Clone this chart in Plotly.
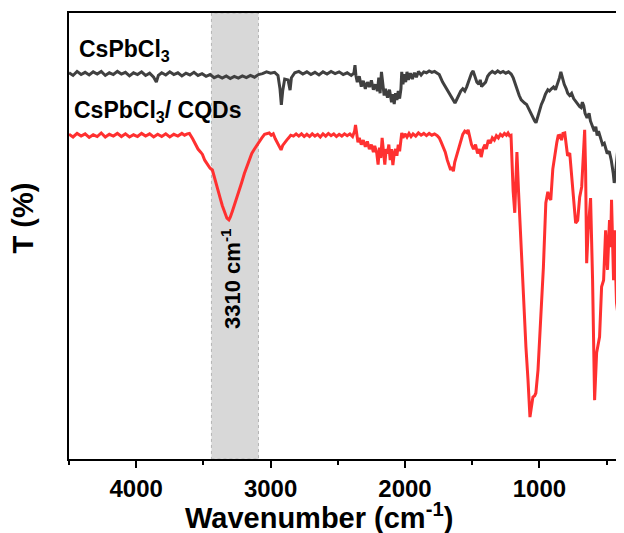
import plotly.graph_objects as go

# FTIR transmittance (wavenumber cm-1, T %)
pure_wn = [4500, 4470, 4440, 4410, 4380, 4350, 4320, 4290, 4260, 4230, 4200, 4170, 4140, 4110, 4080, 4050,
           4020, 3990, 3960, 3930, 3900, 3870, 3850, 3835, 3810, 3780, 3750, 3720, 3690, 3660, 3630, 3600,
           3570, 3540, 3510, 3480, 3450, 3420, 3390, 3360, 3330, 3300, 3270, 3240, 3210, 3180, 3150, 3120,
           3090, 3060, 3030, 3000, 2970, 2945, 2930, 2920, 2910, 2895, 2870, 2855, 2845, 2820, 2790, 2760,
           2730, 2700, 2670, 2640, 2610, 2580, 2550, 2520, 2490, 2460, 2430, 2400, 2380, 2372, 2365, 2355,
           2340, 2325, 2310, 2295, 2280, 2265, 2250, 2235, 2220, 2205, 2195, 2185, 2175, 2165, 2155, 2145,
           2130, 2115, 2100, 2090, 2080, 2070, 2060, 2050, 2040, 2030, 2024, 2015, 2005, 1995, 1985, 1975,
           1960, 1945, 1930, 1915, 1900, 1880, 1860, 1840, 1820, 1800, 1780, 1760, 1745, 1720, 1700, 1680,
           1660, 1640, 1628, 1615, 1600, 1585, 1570, 1555, 1540, 1520, 1505, 1493, 1480, 1465, 1450, 1440,
           1430, 1415, 1400, 1385, 1370, 1350, 1330, 1310, 1290, 1270, 1250, 1230, 1210, 1195, 1180, 1165,
           1150, 1135, 1120, 1110, 1095, 1080, 1065, 1050, 1035, 1025, 1015, 1000, 985, 970, 955, 937,
           925, 910, 895, 880, 865, 850, 840, 830, 815, 800, 789, 775, 760, 745, 730, 715,
           700, 690, 680, 670, 660, 645, 630, 620, 605, 591, 580, 570, 560, 545, 530, 517,
           505, 495, 480, 465, 450, 443, 435, 425, 418, 410, 400]
pure_t = [86.6, 86.0, 86.9, 86.2, 86.7, 86.1, 86.8, 86.3, 86.9, 86.0, 86.6, 86.2, 86.9, 86.3, 86.7, 85.9,
          86.6, 86.2, 86.8, 86.0, 86.5, 85.6, 84.5, 86.0, 86.6, 86.1, 86.8, 86.2, 86.6, 85.9, 86.5, 86.1,
          86.7, 86.0, 86.4, 85.8, 86.2, 85.5, 85.9, 85.4, 85.9, 85.3, 85.8, 85.4, 85.9, 85.5, 86.0, 85.6,
          86.2, 86.4, 86.8, 86.5, 86.7, 86.0, 83.0, 79.4, 82.5, 85.2, 85.0, 82.7, 85.5, 86.6, 86.9, 86.3,
          86.8, 86.2, 86.7, 86.1, 86.8, 86.3, 86.9, 86.4, 86.8, 86.2, 86.6, 86.0, 86.5, 88.3, 86.0, 84.5,
          85.8, 83.5, 84.8, 83.0, 84.5, 83.4, 84.9, 82.8, 84.0, 82.5, 85.5, 82.0, 86.8, 84.0, 81.5, 83.0,
          81.0, 82.8, 80.0, 81.8, 79.6, 82.0, 80.5, 82.5, 80.8, 83.0, 86.8, 84.0, 86.3, 84.5, 86.8, 85.0,
          86.5, 85.2, 86.6, 85.6, 86.9, 86.1, 86.8, 86.6, 87.0, 86.7, 86.9, 86.5, 86.2, 84.5, 83.5, 82.5,
          81.5, 80.5, 79.8, 80.6, 81.5, 82.5, 83.0, 82.5, 83.5, 85.5, 86.5, 87.0, 86.0, 84.5, 84.0, 85.0,
          83.5, 84.0, 84.5, 85.8, 86.4, 86.9, 86.5, 87.0, 86.6, 86.9, 86.5, 86.8, 86.3, 85.5, 84.0, 82.5,
          81.5, 80.5, 80.0, 79.8, 79.5, 78.5, 77.5, 76.5, 75.8, 75.4, 76.5, 78.0, 79.5, 80.5, 81.8, 82.8,
          82.5, 83.0, 83.4, 82.8, 84.0, 85.5, 86.8, 85.5, 84.0, 83.0, 82.0, 81.5, 82.0, 80.8, 80.2, 79.5,
          79.0, 78.8, 80.0, 79.2, 77.5, 76.5, 77.5, 75.8, 74.5, 73.5, 74.5, 72.5, 73.5, 71.8, 70.5, 70.8,
          69.5, 68.5, 69.0, 67.0, 64.0, 61.9, 63.5, 66.0, 69.0, 66.0, 64.0]

cqd_wn = [4500, 4470, 4440, 4410, 4380, 4350, 4320, 4290, 4260, 4230, 4200, 4170, 4140, 4110, 4080, 4050,
          4020, 3990, 3960, 3930, 3900, 3870, 3840, 3810, 3780, 3750, 3720, 3690, 3660, 3640, 3620, 3604,
          3580, 3560, 3540, 3520, 3507, 3490, 3470, 3450, 3433, 3410, 3390, 3375, 3359, 3340, 3325, 3310,
          3300, 3285, 3270, 3250, 3233, 3215, 3195, 3175, 3159, 3140, 3120, 3100, 3085, 3065, 3045, 3030,
          3010, 2995, 2980, 2965, 2950, 2935, 2922, 2910, 2895, 2880, 2865, 2850, 2830, 2810, 2790, 2770,
          2750, 2730, 2710, 2690, 2670, 2650, 2630, 2610, 2590, 2570, 2550, 2530, 2510, 2490, 2470, 2450,
          2430, 2410, 2390, 2375, 2368, 2360, 2350, 2340, 2325, 2310, 2295, 2280, 2265, 2250, 2235, 2225,
          2210, 2200, 2190, 2180, 2170, 2160, 2150, 2140, 2130, 2120, 2110, 2100, 2090, 2080, 2070, 2060,
          2050, 2040, 2030, 2024, 2015, 2000, 1985, 1970, 1955, 1940, 1920, 1900, 1880, 1860, 1840, 1820,
          1800, 1780, 1760, 1745, 1730, 1715, 1700, 1685, 1670, 1660, 1650, 1640, 1630, 1615, 1600, 1585,
          1570, 1555, 1540, 1530, 1520, 1505, 1490, 1475, 1460, 1445, 1433, 1420, 1405, 1395, 1380, 1365,
          1350, 1335, 1320, 1305, 1290, 1275, 1260, 1245, 1233, 1222, 1211, 1195, 1183, 1175, 1167, 1155,
          1145, 1135, 1122, 1110, 1100, 1085, 1075, 1070, 1060, 1048, 1035, 1026, 1010, 989, 970, 952,
          937, 925, 915, 900, 885, 870, 860, 848, 835, 825, 811, 800, 790, 774, 752, 730,
          715, 700, 685, 663, 656, 648, 637, 619, 604, 589, 574, 552, 537, 522, 507, 493,
          478, 470, 463, 448, 441, 426, 411, 405, 400]
cqd_t = [72.8, 72.2, 73.0, 72.4, 72.9, 72.1, 72.7, 72.3, 73.1, 72.2, 72.8, 72.4, 73.0, 72.3, 72.9, 72.2,
         72.7, 72.3, 73.0, 72.4, 72.9, 72.2, 72.8, 72.3, 72.9, 72.2, 72.8, 72.4, 73.0, 72.6, 72.9, 73.0,
         71.8, 70.5, 69.5, 68.8, 68.3, 67.0, 66.0, 65.2, 64.8, 62.5, 60.0, 58.5, 56.8, 55.0, 54.0, 53.6,
         54.2, 55.5, 56.8, 58.5, 60.3, 62.0, 64.0, 65.8, 67.0, 68.5, 69.5, 70.5, 71.1, 72.0, 72.8, 73.0,
         73.1, 72.6, 72.9, 71.8, 70.8, 69.8, 69.3, 70.3, 71.0, 71.5, 72.0, 72.6, 72.4, 72.9, 72.4, 72.9,
         72.3, 72.8, 72.3, 72.9, 72.4, 72.8, 72.2, 72.9, 72.4, 73.0, 72.5, 72.9, 72.3, 72.8, 72.4, 72.9,
         72.5, 72.9, 72.3, 73.5, 74.9, 72.8, 71.0, 72.0, 70.5, 71.5, 70.0, 71.2, 69.5, 70.5, 68.8, 70.2,
         68.6, 66.0, 69.8, 67.5, 72.0, 69.0, 66.0, 69.5, 68.5, 70.5, 67.0, 69.5, 65.9, 68.5, 69.5, 68.0,
         70.5, 69.0, 71.5, 73.1, 72.0, 72.9, 72.2, 73.0, 72.3, 72.9, 72.4, 73.1, 72.6, 73.0, 72.5, 73.0,
         72.6, 72.9, 72.5, 72.0, 71.0, 70.0, 68.8, 67.0, 65.5, 64.8, 65.5, 64.5, 66.5, 68.0, 70.0, 71.5,
         72.8, 73.5, 73.2, 73.8, 72.5, 70.5, 69.5, 70.5, 68.5, 69.5, 67.7, 69.5, 70.5, 69.5, 71.5, 70.8,
         72.0, 71.5, 72.5, 72.0, 72.8, 72.4, 73.0, 72.6, 73.1, 72.5, 72.6, 60.0, 55.2, 64.0, 68.8, 60.0,
         53.6, 45.0, 37.2, 30.0, 25.1, 18.0, 12.0, 9.4, 11.5, 13.9, 14.2, 14.8, 20.0, 31.2, 43.0, 57.4,
         59.9, 58.5, 58.1, 65.0, 68.6, 71.0, 72.5, 72.6, 71.5, 73.0, 73.1, 71.0, 68.0, 68.6, 61.0, 52.9,
         53.5, 58.7, 61.0, 73.8, 64.8, 43.9, 51.3, 58.5, 40.1, 13.2, 23.8, 27.4, 38.6, 40.1, 51.3, 42.4,
         53.6, 47.5, 58.1, 40.1, 51.3, 35.0, 31.2, 60.0, 72.0]

band = [3440, 3090]
peak_label = 3290

font = "Liberation Sans, Arial, sans-serif"

fig = go.Figure()
fig.add_trace(go.Scatter(x=pure_wn, y=pure_t, mode="lines",
                         line=dict(color="#404040", width=3), name="CsPbCl3"))
fig.add_trace(go.Scatter(x=cqd_wn, y=cqd_t, mode="lines",
                         line=dict(color="#ff3030", width=3), name="CsPbCl3/ CQDs"))

fig.add_shape(type="rect", xref="x", yref="paper", x0=band[0], x1=band[1], y0=0, y1=1,
              fillcolor="rgb(216,216,216)", line=dict(color="rgb(180,180,180)", width=1, dash="dot"),
              layer="below")

fig.add_annotation(x=peak_label, y=0.405, xref="x", yref="paper", textangle=-90,
                   xanchor="center", yanchor="middle",
                   text="<b>3310 cm<sup>-1</sup></b>", showarrow=False,
                   font=dict(family=font, size=22, color="black"))
fig.add_annotation(x=0.014, y=0.915, xref="paper", yref="paper", xanchor="left", yanchor="middle",
                   text="<b>CsPbCl<sub>3</sub></b>", showarrow=False,
                   font=dict(family=font, size=23, color="black"))
fig.add_annotation(x=0.005, y=0.78, xref="paper", yref="paper", xanchor="left", yanchor="middle",
                   text="<b>CsPbCl<sub>3</sub>/ CQDs</b>", showarrow=False,
                   font=dict(family=font, size=23, color="black"))
fig.add_annotation(x=0.454, y=-0.128, xref="paper", yref="paper", xanchor="center", yanchor="middle",
                   text="<b>Wavenumber (cm<sup>-1</sup>)</b>", showarrow=False,
                   font=dict(family=font, size=29, color="black"))
fig.add_annotation(x=-0.083, y=0.54, xref="paper", yref="paper", textangle=-90,
                   xanchor="center", yanchor="middle",
                   text="<b>T (%)</b>", showarrow=False,
                   font=dict(family=font, size=29, color="black"))

fig.update_xaxes(range=[4500, 400], showline=True, mirror=True, linecolor="black", linewidth=2,
                 ticks="outside", ticklen=7, tickwidth=2, tickcolor="black",
                 tickvals=[4000, 3000, 2000, 1000],
                 minor=dict(tickvals=[4500, 3500, 2500, 1500, 500], ticks="outside",
                            ticklen=4, tickwidth=2, tickcolor="black"),
                 tickfont=dict(family=font, size=24, color="black", weight="bold"),
                 showgrid=False, zeroline=False)
fig.update_yaxes(range=[0, 100], showline=True, mirror=True, linecolor="black", linewidth=2,
                 showticklabels=False, ticks="", showgrid=False, zeroline=False)

# page body keeps an 8px margin, so the figure is 8px smaller than the window
fig.update_layout(width=616, height=525, showlegend=False,
                  plot_bgcolor="white", paper_bgcolor="white",
                  margin=dict(l=61, r=2, t=5, b=74))

fig.write_html("out.html")
